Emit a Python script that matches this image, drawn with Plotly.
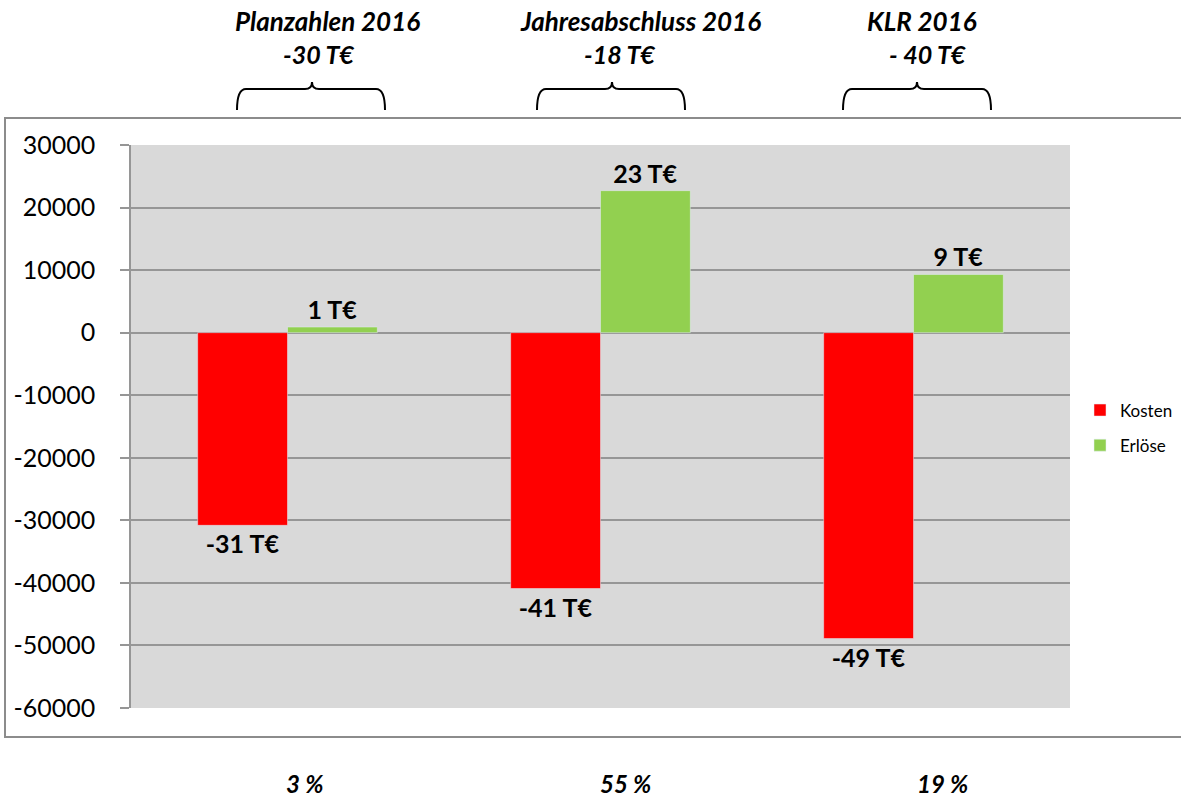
import plotly.graph_objects as go

categories = ["Planzahlen 2016", "Jahresabschluss 2016", "KLR 2016"]
kosten = [-30800, -40900, -48900]
erloese = [900, 22700, 9300]
header_titles = ["Planzahlen 2016", "Jahresabschluss 2016", "KLR 2016"]
header_sums = ["-30 T€", "-18 T€", "- 40 T€"]
footer_pct = ["3 %", "55 %", "19 %"]
tick_vals = [30000, 20000, 10000, 0, -10000, -20000, -30000, -40000, -50000, -60000]
tick_text = ["30000", "20000", "10000", "0", "-10000", "-20000", "-30000", "-40000", "-50000", "-60000"]

W, H = 1181, 798
L, T = 131, 145
R = W - 1070
B = H - 708
PW, PH = W - L - R, H - T - B


def px(x):
    return (x - L) / PW


def py(y):
    return (H - B - y) / PH


FONT = "Lato, 'Open Sans', sans-serif"


def lab(v):
    return f"{round(v / 1000)} T€"


fig = go.Figure()
fig.add_trace(go.Bar(
    name="Kosten", x=categories, y=kosten, marker_color="#FF0000",
    text=[lab(v) for v in kosten], textposition="outside",
    textfont=dict(family=FONT, size=25, color="black", weight="bold"),
    cliponaxis=False, legendgroup="k",
))
fig.add_trace(go.Bar(
    name="Erlöse", x=categories, y=erloese, marker_color="#92D050",
    text=[lab(v) for v in erloese], textposition="outside",
    textfont=dict(family=FONT, size=25, color="black", weight="bold"),
    cliponaxis=False, legendgroup="e",
))

shapes = []
# outer chart border
shapes.append(dict(type="rect", xref="paper", yref="paper",
                   x0=px(5), x1=px(1190), y0=py(737), y1=py(118),
                   line=dict(color="#8C8C8C", width=2), layer="below"))

# braces
brace_x = [(237, 385, 312), (537, 685, 612), (843, 991, 917)]
for xl, xr, xc in brace_x:
    yl, ye, yt = 89, 110, 82
    p = (f"M {px(xl)},{py(ye)} Q {px(xl)},{py(yl)} {px(xl+9)},{py(yl)} "
         f"L {px(xc-7)},{py(yl)} Q {px(xc)},{py(yl)} {px(xc)},{py(yt)} "
         f"Q {px(xc)},{py(yl)} {px(xc+7)},{py(yl)} "
         f"L {px(xr-9)},{py(yl)} Q {px(xr)},{py(yl)} {px(xr)},{py(ye)}")
    shapes.append(dict(type="path", xref="paper", yref="paper", path=p,
                       line=dict(color="black", width=2)))

annotations = []
title_x = [327, 640, 922]
sum_x = [318, 619, 927]
pct_x = [304, 625, 942]
for i in range(3):
    annotations.append(dict(text=f"<b><i>{header_titles[i]}</i></b>", xref="paper", yref="paper",
                            x=px(title_x[i]), y=py(21), showarrow=False,
                            xanchor="center", yanchor="middle",
                            font=dict(family=FONT, size=26, color="black")))
    annotations.append(dict(text=f"<b><i>{header_sums[i]}</i></b>", xref="paper", yref="paper",
                            x=px(sum_x[i]), y=py(54), showarrow=False,
                            xanchor="center", yanchor="middle",
                            font=dict(family=FONT, size=25, color="black")))
    annotations.append(dict(text=f"<b><i>{footer_pct[i]}</i></b>", xref="paper", yref="paper",
                            x=px(pct_x[i]), y=py(783), showarrow=False,
                            xanchor="center", yanchor="middle",
                            font=dict(family=FONT, size=24, color="black")))

fig.update_layout(
    width=W, height=H,
    margin=dict(l=L, r=R, t=T, b=B, autoexpand=False),
    paper_bgcolor="white", plot_bgcolor="#D9D9D9",
    barmode="group", bargap=0.426, bargroupgap=0,
    showlegend=True,
    legend=dict(x=px(1080), y=py(428), xanchor="left", yanchor="middle",
                font=dict(family=FONT, size=17, color="black"),
                bgcolor="rgba(0,0,0,0)", tracegroupgap=10, itemwidth=30),
    shapes=shapes, annotations=annotations,
    font=dict(family=FONT),
)
fig.update_xaxes(showticklabels=False, showgrid=False, zeroline=False, showline=False, ticks="")
fig.update_yaxes(range=[-60000, 30000], tickvals=tick_vals, ticktext=tick_text,
                 showgrid=True, gridcolor="#969696", gridwidth=1.5,
                 zeroline=False, showline=True, linecolor="#969696", linewidth=1.5,
                 ticks="outside", ticklen=9, tickcolor="#969696", tickwidth=1.5,
                 ticklabelstandoff=20,
                 tickfont=dict(family=FONT, size=25, color="black"))

fig.write_html("out.html", config={"displayModeBar": False},
               post_script="document.body.style.margin='0';document.body.style.overflow='hidden';")
